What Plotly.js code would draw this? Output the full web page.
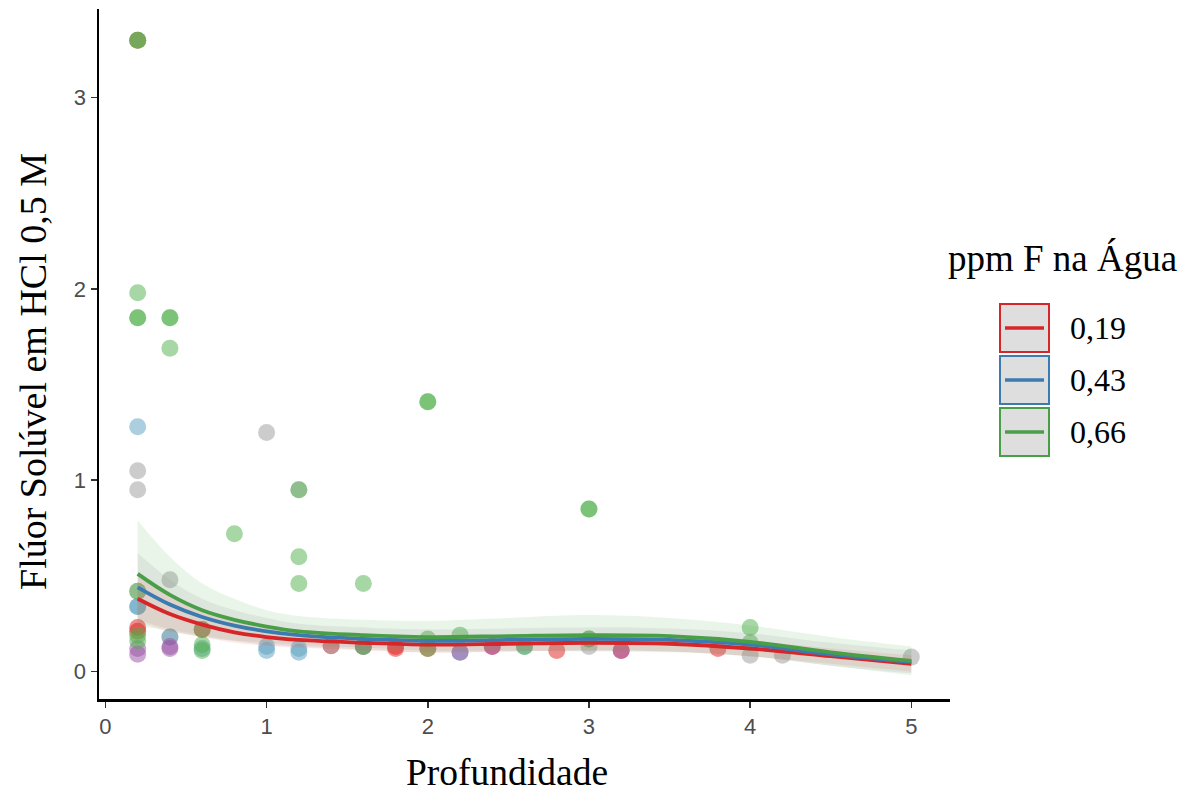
<!DOCTYPE html>
<html>
<head>
<meta charset="utf-8">
<script src="https://cdn.plot.ly/plotly-3.0.1.min.js"></script>
<style>html,body{margin:0;padding:0;background:#fff;}#chart{width:1196px;height:796px;}</style>
</head>
<body>
<div id="chart"></div>
<script>
// ---- data ----
const groupLabels = ["0,19", "0,43", "0,66"];
const groupColors = ["#d7262a", "#3b7bb0", "#4a9e48"];

// observed points, split by colour class
const greenX = [0.2,0.2,0.2,0.2,0.2,0.4,0.4,0.4,0.8,1.2,1.2,1.2,1.6,2,2,3,3,0.2,0.2,0.2,0.6,0.6,0.6,1.6,2,2,2.2,2.6,3,3,4,4];
const greenY = [3.3,3.3,1.98,1.85,1.85,1.85,1.85,1.69,0.72,0.6,0.46,0.95,0.46,1.41,1.41,0.85,0.85,0.42,0.19,0.16,0.22,0.14,0.11,0.13,0.17,0.12,0.19,0.13,0.17,0.17,0.23,0.15];
const greyX = [0.2,0.2,1,0.4,1.2,1.4,3,4,4.2,5,0.4,0.2];
const greyY = [1.05,0.95,1.25,0.48,0.95,0.135,0.13,0.085,0.085,0.075,0.18,0.42];
const redX = [0.2,0.2,0.2,0.6,1.4,1.6,1.8,1.8,2,2.4,2.8,3.2,3.8];
const redY = [3.3,0.23,0.21,0.22,0.135,0.13,0.13,0.12,0.12,0.13,0.11,0.11,0.12];
const blueX = [0.2,0.2,0.2,0.4,0.6,1,1,1.2,1.2,2.2,2.6,1.6];
const blueY = [1.28,0.34,0.34,0.18,0.12,0.13,0.11,0.12,0.10,0.10,0.13,0.13];
const purpleX = [0.2,0.2,0.4,0.4,2.2,3.2,2.4];
const purpleY = [0.12,0.09,0.12,0.13,0.10,0.11,0.13];

// smoothed fits (loess) with confidence bands
const fitX = [0.2,0.4,0.6,0.8,1,1.2,1.6,2,2.5,3,3.5,4,4.5,5];
const fit019 = [0.38,0.30,0.245,0.205,0.18,0.165,0.15,0.14,0.145,0.15,0.145,0.12,0.08,0.04];
const up019  = [0.50,0.39,0.31,0.26,0.225,0.205,0.19,0.18,0.185,0.19,0.185,0.16,0.12,0.085];
const lo019  = [0.26,0.21,0.18,0.15,0.135,0.125,0.11,0.10,0.105,0.11,0.105,0.08,0.04,0.0];
const fit043 = [0.44,0.35,0.285,0.24,0.21,0.19,0.17,0.16,0.165,0.17,0.165,0.14,0.09,0.05];
const up043  = [0.62,0.48,0.38,0.32,0.28,0.25,0.23,0.22,0.225,0.23,0.225,0.20,0.15,0.11];
const lo043  = [0.27,0.22,0.19,0.16,0.14,0.13,0.115,0.10,0.105,0.11,0.105,0.08,0.03,-0.01];
const fit066 = [0.51,0.40,0.32,0.27,0.235,0.21,0.19,0.18,0.185,0.19,0.185,0.155,0.10,0.055];
const up066  = [0.79,0.60,0.46,0.38,0.32,0.29,0.27,0.265,0.28,0.295,0.28,0.24,0.18,0.13];
const lo066  = [0.24,0.21,0.18,0.16,0.15,0.14,0.125,0.11,0.11,0.105,0.10,0.08,0.03,-0.02];

const xTicks = [0,1,2,3,4,5];
const yTicks = [0,1,2,3];

// ---- traces ----
function pts(x, y, color){
  return {x:x, y:y, type:'scatter', mode:'markers', showlegend:false, hoverinfo:'x+y',
    marker:{color:color, size:17, opacity:0.5, line:{width:0}}};
}
const traces = [
  pts(redX, redY, '#e41a1c'),
  pts(greyX, greyY, '#999999'),
  pts(blueX, blueY, '#5a9fc0'),
  pts(purpleX, purpleY, '#984ea3'),
  pts(greenX, greenY, '#4daf4a')
];
const bands = [[lo066, up066, 'rgba(77,175,74,0.12)'], [lo043, up043, 'rgba(150,150,150,0.15)'], [lo019, up019, 'rgba(240,70,70,0.12)']];
bands.forEach(function(b){
  traces.push({x:fitX, y:b[0], type:'scatter', mode:'lines', line:{width:0, shape:'spline'}, showlegend:false, hoverinfo:'skip'});
  traces.push({x:fitX, y:b[1], type:'scatter', mode:'lines', line:{width:0, shape:'spline'}, fill:'tonexty', fillcolor:b[2], showlegend:false, hoverinfo:'skip'});
});
[fit019, fit043, fit066].forEach(function(f, i){
  traces.push({x:fitX, y:f, type:'scatter', mode:'lines', name:groupLabels[i], showlegend:false,
    line:{color:groupColors[i], width:3.8, shape:'spline'}});
});

// ---- layout ----
const L = 99, R = 950, T = 9, B = 699;
function px(p){ return (p - L) / (R - L); }
function py(p){ return (B - p) / (B - T); }

const shapes = [], annotations = [];
const keyTop = [304, 356, 408];
groupLabels.forEach(function(lab, i){
  const t = keyTop[i], b = t + 48, c = t + 24;
  shapes.push({type:'rect', xref:'paper', yref:'paper', x0:px(1000), x1:px(1049), y0:py(b), y1:py(t),
    fillcolor:'#dedede', line:{color:groupColors[i], width:2}});
  shapes.push({type:'line', xref:'paper', yref:'paper', x0:px(1005), x1:px(1044), y0:py(c), y1:py(c),
    line:{color:groupColors[i], width:3.5}});
  annotations.push({xref:'paper', yref:'paper', x:px(1068), y:py(c), xanchor:'left', yanchor:'middle',
    text:lab, showarrow:false, font:{family:'Liberation Serif', size:32, color:'#000'}});
});
annotations.push({xref:'paper', yref:'paper', x:px(1062), y:py(258), xanchor:'center', yanchor:'middle',
  text:'ppm F na Água', showarrow:false, font:{family:'Liberation Serif', size:37, color:'#000'}});
annotations.push({xref:'paper', yref:'paper', x:px(507), y:py(772), xanchor:'center', yanchor:'middle',
  text:'Profundidade', showarrow:false, font:{family:'Liberation Serif', size:37.5, color:'#000'}});
annotations.push({xref:'paper', yref:'paper', x:px(33), y:py(372), xanchor:'center', yanchor:'middle', textangle:-90,
  text:'Flúor Solúvel em HCl 0,5 M', showarrow:false, font:{family:'Liberation Serif', size:38, color:'#000'}});

const axisCommon = {showgrid:false, zeroline:false, showline:true, linecolor:'#000', linewidth:2.5,
  ticks:'outside', ticklen:6, tickwidth:1.5, tickcolor:'#333',
  tickfont:{family:'Liberation Sans', size:22, color:'#4d4d4d'}};

const layout = {
  width:1196, height:796,
  margin:{l:L, r:1196-R, t:T, b:796-B},
  paper_bgcolor:'#fff', plot_bgcolor:'#fff',
  showlegend:false,
  xaxis:Object.assign({}, axisCommon, {range:[-0.04, 5.24], tickvals:xTicks, ticktext:xTicks.map(String)}),
  yaxis:Object.assign({}, axisCommon, {range:[-0.144, 3.464], tickvals:yTicks, ticktext:yTicks.map(String)}),
  shapes:shapes, annotations:annotations
};

Plotly.newPlot('chart', traces, layout, {displayModeBar:false, staticPlot:true});
</script>
</body>
</html>
